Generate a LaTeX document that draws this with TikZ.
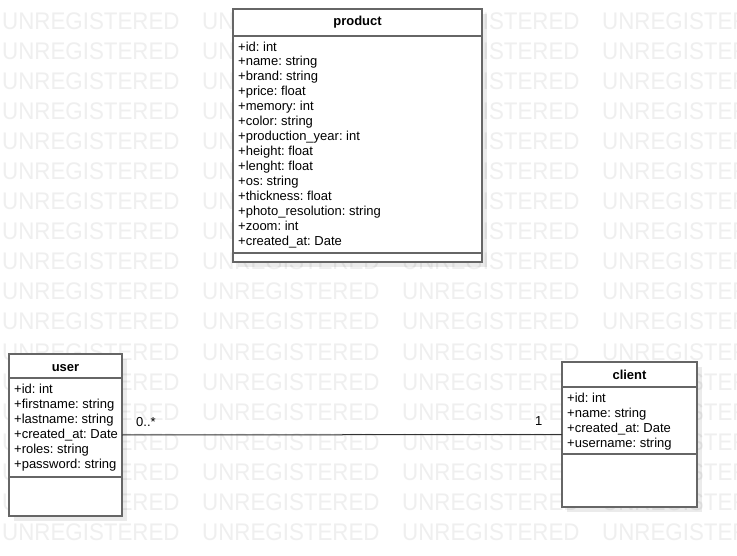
\documentclass[tikz,border=0pt]{standalone}
\usepackage{fontspec}
\setmainfont{Liberation Sans}
\frenchspacing
\usetikzlibrary{shadows}
\definecolor{boxgray}{RGB}{102,102,102}
\definecolor{linkgray}{RGB}{51,51,51}
\definecolor{markgray}{RGB}{239,239,239}
\tikzset{
	classstyle/.style={rectangle,draw=boxgray,line width=2pt,fill=white,anchor=north west,inner sep=0pt,outer sep=0pt,drop shadow={shadow xshift=5pt,shadow yshift=-5pt,fill=black,opacity=0.08}},
	titlestyle/.style={anchor=base,inner sep=0pt,font=\fontsize{13}{15}\selectfont\bfseries},
	attrstyle/.style={anchor=base west,align=left,inner sep=0pt,font=\fontsize{13}{15}\selectfont},
	multstyle/.style={anchor=base west,inner sep=0pt,font=\fontsize{13}{15}\selectfont},
	markstyle/.style={anchor=base west,inner sep=0pt,text=markgray,font=\fontsize{24}{24}\selectfont},
	sepstyle/.style={draw=boxgray,line width=2pt},
	linkstyle/.style={draw=linkgray,line width=1pt}
}

\begin{document}
\begin{tikzpicture}[x=1pt,y=-1pt]
		\useasboundingbox (0,0) rectangle (737,556);
		\clip (0,0) rectangle (737,556);
		\fill[white] (0,0) rectangle (737,556);
		% watermark
		\foreach \r in {0,...,17}
			\foreach \c in {0,...,3}
				\node[markstyle] (mark-\r-\c) at (2+200*\c,30+30*\r) {\scalebox{0.93}[1]{UNREGISTERED}};
		% classes
		\node[classstyle,minimum width=249,minimum height=253] (product) at (233,9) {};
		\node[classstyle,minimum width=113,minimum height=162] (user) at (9,354) {};
		\node[classstyle,minimum width=135,minimum height=145] (client) at (562,362) {};
		\draw[sepstyle] (233,36)--(482,36);
		\draw[sepstyle] (233,253)--(482,253);
		\draw[sepstyle] (9,378)--(122,378);
		\draw[sepstyle] (9,477)--(122,477);
		\draw[sepstyle] (562,387)--(697,387);
		\draw[sepstyle] (562,454)--(697,454);
		\node[titlestyle] (producttitle) at (357.5,26) {product};
		\node[titlestyle] (usertitle) at (65.5,371) {user};
		\node[titlestyle] (clienttitle) at (629.5,379) {client};
		% base of the last line
		\node[attrstyle] (productattr) at (238,246) {+id: int\\+name: string\\+brand: string\\+price: float\\+memory: int\\+color: string\\+production\_year: int\\+height: float\\+lenght: float\\+os: string\\+thickness: float\\+photo\_resolution: string\\+zoom: int\\+created\_at: Date};
		\node[attrstyle] (userattr) at (14,468) {+id: int\\+firstname: string\\+lastname: string\\+created\_at: Date\\+roles: string\\+password: string};
		\node[attrstyle] (clientattr) at (567,447) {+id: int\\+name: string\\+created\_at: Date\\+username: string};
		% association
		\draw[linkstyle] (user.east)--(client.west);
		\node[multstyle] (usermult) at (136,426) {0..*};
		\node[multstyle] (clientmult) at (535,425) {1};
\end{tikzpicture}
\end{document}
